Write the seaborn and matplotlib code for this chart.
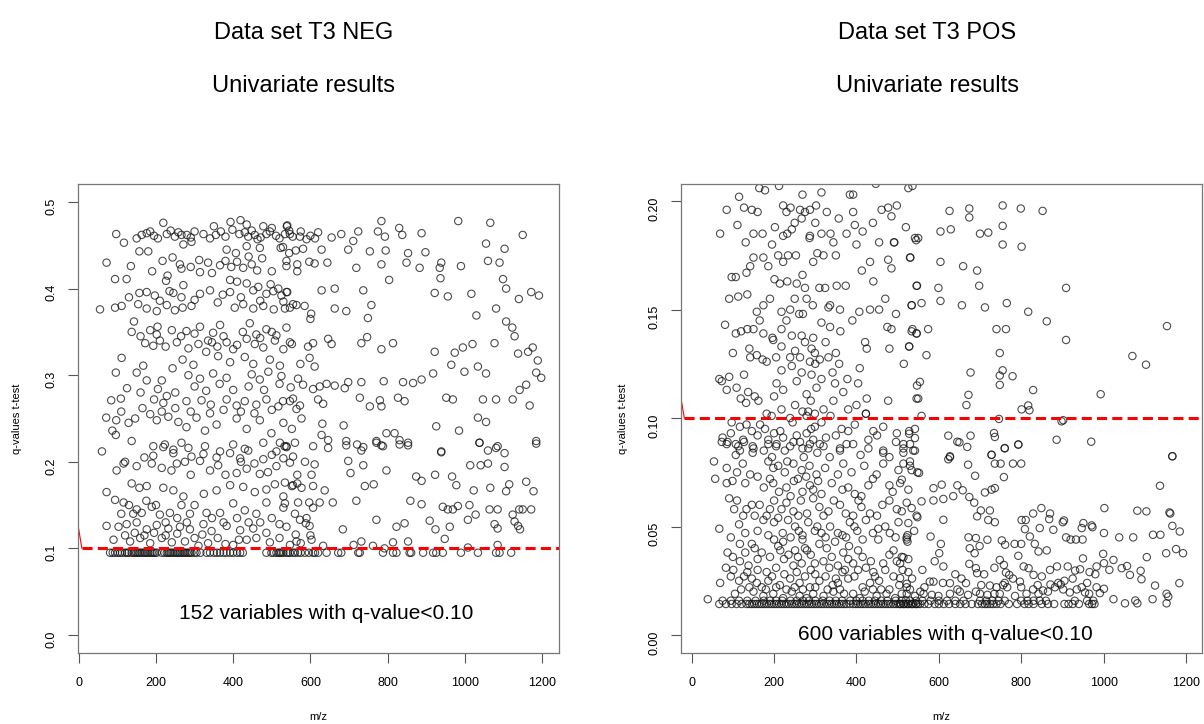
#!/usr/bin/env python3
'''two univariate q-value scatter panels (T3 NEG / T3 POS)'''

import pandas as pd
import matplotlib
matplotlib.use('Agg')
import matplotlib.pyplot as plt
import seaborn as sns

# ---------------- data ----------------
q_cut = 0.10

# NEG panel, q >= 0.3
neg_upper = [
    (219,.476),(350,.472),(393,.477),(419,.479),(435,.474),(478,.472),(500,.470),(539,.472),
    (97,.463),(163,.462),(176,.464),(195,.461),(228,.463),(249,.460),(266,.462),(290,.459),(323,.463),
    (355,.462),(416,.463),(439,.460),(456,.462),(471,.459),(486,.463),(511,.461),(534,.463),(554,.460),
    (117,.453),(271,.451),(292,.454),(435,.449),(469,.447),(157,.443),(180,.443),(383,.445),(407,.441),
    (523,.447),(545,.441),(562,.444),
    (72,.430),(217,.432),(243,.436),(262,.428),(312,.433),(335,.430),(366,.427),(410,.431),(426,.424),
    (448,.428),(462,.421),(538,.426),(566,.420),(135,.426),(266,.423),(314,.419),
    (94,.411),(124,.411),(226,.409),(271,.404),(392,.410),(410,.408),(435,.406),(465,.402),(497,.405),(517,.400),
    (157,.395),(176,.396),(197,.392),(235,.397),(266,.390),(314,.394),(340,.398),(373,.393),(392,.396),
    (452,.398),(486,.394),(504,.397),(525,.392),(540,.396),
    (55,.376),(94,.378),(111,.380),(154,.382),(176,.377),(202,.374),(228,.381),(249,.375),(269,.378),
    (292,.380),(404,.378),(426,.382),(452,.377),(478,.380),(505,.376),(547,.378),(564,.381),
    (143,.362),(137,.350),(202,.347),(204,.356),(241,.352),(279,.351),(314,.356),(348,.349),(366,.358),
    (443,.360),(460,.347),(486,.353),(512,.346),(538,.355),
    (172,.337),(193,.334),(210,.340),(254,.338),(284,.331),(310,.336),(335,.340),(359,.333),(383,.338),
    (400,.330),(435,.342),(456,.336),(478,.332),(508,.340),(552,.336),
    (111,.320),(269,.318),(297,.312),(361,.322),(392,.315),(430,.321),(452,.313),(495,.318),(521,.311),
    (96,.303),(150,.303),(167,.311),(176,.294),(215,.294),(243,.308),(284,.300),(314,.296),(348,.302),
    (383,.297),(448,.301),(469,.295),(491,.304),(525,.299),(568,.296),
    (784,.478),(830,.470),(983,.478),(1066,.476),(540,.473),
    (547,.463),(573,.460),(620,.465),(680,.463),(724,.466),(775,.466),(793,.460),(838,.462),(888,.464),
    (1150,.462),(590,.457),(655,.459),(711,.455),
    (529,.448),(581,.446),(629,.445),(698,.445),(754,.443),(795,.444),(853,.441),(898,.442),(1055,.452),(1103,.446),
    (538,.432),(566,.428),(597,.431),(611,.429),(644,.430),(719,.424),(784,.428),(849,.430),(883,.424),
    (939,.430),(990,.426),(1060,.432),(1090,.430),(935,.424),
    (804,.410),(937,.412),(1099,.411),
    (538,.396),(629,.398),(663,.400),(737,.398),(922,.395),(956,.391),(1017,.394),(1107,.400),(1172,.396),
    (1192,.392),(1140,.388),
    (534,.377),(555,.382),(585,.380),(602,.371),(663,.377),(693,.374),(758,.381),(749,.366),(1030,.369),
    (1081,.377),(1107,.362),(1123,.355),(600,.365),
    (547,.338),(594,.333),(607,.337),(646,.342),(655,.336),(732,.337),(747,.344),(784,.330),(814,.337),
    (922,.327),(974,.326),(995,.332),(1020,.336),(1077,.337),(1138,.325),(1164,.327),(1176,.332),
    (1189,.317),(1129,.345),
    (574,.313),(598,.320),(611,.310),(918,.302),(965,.312),(999,.304),(1034,.310),(1055,.302),(1185,.303),(1198,.297),
    (150,.458),(185,.466),(205,.458),(238,.467),(258,.465),(280,.462),(300,.466),(340,.458),(368,.466),
    (380,.460),(398,.468),(430,.465),(448,.467),(463,.457),(495,.466),(520,.458),(545,.467),(575,.466),
    (600,.461),(612,.458),
    (190,.420),(230,.415),(290,.425),(345,.418),(380,.432),(395,.425),(440,.437),(475,.435),(500,.420),
    (130,.390),(210,.386),(245,.395),(300,.387),(360,.384),(420,.390),(470,.386),(530,.385),
    (160,.345),(185,.352),(225,.333),(265,.345),(300,.348),(330,.327),(345,.338),(375,.345),(410,.335),
    (425,.350),(470,.343),(500,.350),(530,.330),
]

# NEG panel, 0.1 <= q < 0.3
neg_lower = [
    (84,.271),(109,.273),(195,.272),(219,.268),(228,.276),(279,.270),(318,.271),(342,.266),(383,.272),
    (409,.265),(430,.270),(460,.266),(486,.272),(517,.264),(547,.270),(564,.261),
    (71,.251),(97,.248),(87,.236),(96,.231),(129,.245),(146,.250),(202,.248),(232,.252),(258,.246),
    (279,.240),(305,.251),(327,.236),(357,.243),(409,.250),(435,.238),(469,.248),(499,.233),(530,.245),(552,.238),
    (60,.212),(137,.224),(193,.218),(223,.220),(245,.214),(266,.222),(284,.216),(327,.218),(366,.212),
    (400,.220),(430,.215),(478,.222),(512,.212),(538,.217),
    (549,.286),(581,.289),(607,.284),(624,.287),(642,.290),(663,.288),(689,.285),(698,.292),(732,.292),
    (790,.293),(840,.292),(866,.291),(888,.295),(1142,.283),(1159,.289),
    (529,.270),(555,.273),(573,.265),(620,.272),(633,.267),(728,.274),(754,.264),(780,.271),(784,.264),
    (827,.274),(844,.270),(952,.274),(969,.272),(1047,.272),(1081,.272),(1124,.272),(1168,.265),
    (577,.250),(631,.244),(686,.242),(926,.241),(985,.236),(1034,.251),(1055,.246),(797,.233),(818,.233),
    (560,.222),(629,.231),(646,.225),(693,.224),(721,.220),(737,.217),(771,.224),(784,.219),(831,.225),
    (853,.222),(939,.211),(1038,.222),(1081,.216),(1103,.210),(1185,.224),(1060,.213),
    (193,.207),(219,.217),(245,.210),(292,.206),(323,.209),(357,.205),(392,.210),(418,.204),(439,.213),
    (478,.203),(500,.208),(530,.204),(555,.206),(533,.218),
    (98,.190),(116,.198),(189,.198),(215,.193),(254,.198),(275,.200),(314,.201),(361,.196),(409,.187),
    (435,.192),(469,.186),(512,.195),(547,.199),(566,.185),
    (72,.165),(137,.175),(157,.170),(176,.172),(219,.170),(245,.167),(271,.160),(324,.163),(357,.167),
    (392,.173),(426,.171),(456,.165),(486,.168),(508,.174),(530,.160),(552,.172),
    (94,.156),(116,.153),(141,.140),(163,.141),(189,.148),(210,.139),(236,.141),(266,.150),(288,.140),
    (331,.141),(366,.141),(400,.152),(430,.144),(460,.140),(486,.153),(530,.147),
    (72,.126),(103,.125),(124,.128),(150,.130),(176,.122),(202,.127),(232,.123),(262,.125),(288,.122),
    (323,.128),(344,.120),(383,.126),(418,.121),(452,.123),(486,.118),(538,.125),(562,.116),
    (133,.108),(159,.112),(185,.106),(215,.112),(241,.107),(275,.108),(310,.103),(335,.106),(400,.104),
    (435,.110),(495,.107),(547,.104),
    (521,.222),(538,.218),(607,.218),(646,.216),(693,.219),(732,.213),(771,.222),(788,.218),(831,.220),
    (853,.219),(939,.212),(1038,.222),(1085,.218),(1185,.221),
    (586,.200),(611,.197),(698,.201),(737,.196),(797,.190),(704,.187),(1014,.196),(1041,.196),(1060,.198),(1103,.194),
    (534,.176),(555,.173),(566,.175),(577,.170),(607,.172),(637,.167),(741,.172),(764,.174),(874,.183),
    (888,.178),(923,.185),(967,.183),(978,.173),(1023,.167),(1066,.170),(1107,.166),(1115,.174),(1159,.177),
    (1178,.166),(603,.185),
    (534,.152),(568,.153),(597,.153),(607,.147),(624,.153),(658,.153),(719,.155),(859,.155),(888,.151),
    (943,.148),(956,.145),(969,.145),(982,.149),(1012,.150),(1028,.139),(1064,.145),(1085,.145),(1124,.139),
    (1141,.145),(1150,.145),(1172,.145),
    (573,.133),(588,.129),(598,.126),(684,.122),(771,.133),(823,.125),(844,.129),(909,.132),(924,.122),
    (961,.125),(1008,.133),(1077,.128),(1085,.123),(1129,.131),(1138,.126),(1143,.122),
    (564,.108),(603,.110),(633,.103),(712,.104),(732,.108),(762,.103),(792,.100),(814,.107),(853,.108),
    (948,.111),(1008,.101),(1085,.104),
    (125,.285),(160,.280),(205,.284),(250,.280),(300,.287),(330,.282),(365,.290),(400,.283),(440,.287),
    (480,.283),(520,.290),
    (110,.258),(165,.262),(185,.255),(215,.258),(250,.262),(290,.258),(340,.256),(375,.260),(420,.258),
    (455,.256),(500,.260),
    (120,.200),(150,.195),(170,.205),(240,.190),(290,.185),(340,.190),(380,.185),(420,.200),(455,.198),(490,.188),
    (110,.140),(130,.150),(150,.145),(175,.155),(200,.150),(225,.130),(255,.135),(280,.130),(300,.150),
    (345,.135),(375,.130),(410,.135),(440,.130),(470,.130),(500,.135),(520,.128),(560,.140),(590,.135),
    (90,.110),(120,.115),(145,.118),(170,.115),(195,.118),(225,.115),(255,.117),(300,.112),(320,.116),
    (360,.112),(380,.105),(415,.110),(460,.112),(520,.112),(575,.106),(600,.115),
]

# NEG panel, the 152 variables sitting at the lowest q-value
neg_floor_q = 0.095
neg_floor_mz = [
    81, 88, 94, 101, 107, 112, 120, 125, 129, 137, 142, 146, 150, 154, 158, 163, 168, 172, 176, 180,
    185, 189, 193, 197, 202, 215, 222, 228, 232, 236, 240, 245, 250, 254, 258, 262, 266, 271, 275, 279,
    284, 288, 292, 300, 305, 315, 331, 340, 350, 358, 366, 375, 383, 392, 400, 410, 418, 425,
    486, 499, 505, 512, 518, 521, 525, 530, 538, 542, 547, 555, 560, 568, 575, 586, 596, 607, 612, 620,
    642, 672, 680, 724, 728, 788, 814, 823, 857, 861, 892, 918, 926, 943, 990, 1034, 1081, 1090, 1120,
]

# POS panel, q >= 0.1
pos_upper = [
    (212,.207),(164,.206),(178,.205),(269,.203),(315,.204),(384,.203),(392,.203),(447,.208),(536,.207),(115,.202),
    (85,.196),(127,.197),(146,.196),(222,.198),(230,.195),(240,.197),(263,.196),(275,.195),(287,.196),
    (302,.198),(328,.195),(392,.195),(461,.196),(477,.197),(485,.193),(498,.198),
    (111,.189),(267,.192),(357,.192),(396,.189),(202,.188),(222,.184),(243,.187),(69,.185),(172,.185),
    (232,.185),(287,.184),(315,.185),(337,.185),(376,.185),(415,.186),(455,.181),(491,.181),(542,.183),
    (131,.181),(286,.183),(344,.181),(492,.181),
    (150,.174),(174,.174),(186,.170),(210,.175),(222,.172),(234,.175),(253,.175),(295,.172),(305,.176),
    (142,.170),(133,.167),(413,.168),(433,.172),(477,.173),(485,.169),(530,.174),
    (97,.165),(107,.165),(201,.164),(214,.162),(232,.163),(255,.162),(269,.166),(275,.160),(324,.160),
    (352,.161),(374,.161),(441,.163),(547,.161),
    (91,.155),(113,.156),(135,.157),(158,.149),(174,.152),(218,.149),(239,.150),(261,.148),(279,.155),
    (294,.152),(332,.151),(336,.152),(360,.150),(407,.149),(433,.150),(455,.150),(496,.148),(534,.152),
    (81,.143),(107,.139),(135,.141),(150,.141),(174,.139),(196,.137),(218,.141),(243,.138),(267,.138),
    (295,.137),(315,.144),(336,.142),(361,.140),(475,.142),(485,.141),(534,.140),(546,.139),
    (198,.136),(218,.133),(251,.131),(275,.135),(291,.132),(299,.130),(421,.135),(425,.132),(528,.133),
    (142,.128),(158,.129),(172,.127),(182,.126),(239,.128),(263,.128),(287,.126),(311,.127),(332,.128),
    (358,.125),(480,.132),
    (218,.122),(243,.124),(267,.121),(291,.120),(315,.118),(342,.121),(378,.118),(408,.123),(91,.119),
    (73,.117),(127,.120),
    (67,.118),(85,.113),(109,.114),(137,.112),(153,.110),(206,.116),(222,.113),(255,.117),(279,.111),
    (303,.114),(348,.116),(368,.112),(404,.116),(425,.109),(547,.115),
    (119,.109),(132,.107),(162,.108),(200,.110),(218,.104),(251,.106),(269,.103),(289,.108),(320,.104),
    (344,.108),(380,.104),(400,.106),(423,.102),(477,.108),(546,.109),
    (182,.102),(194,.101),(239,.100),(279,.101),(283,.103),(299,.102),(337,.101),(423,.102),
    (526,.206),(626,.1955),(674,.1966),(674,.1925),(755,.198),(799,.1966),(852,.1955),(604,.186),(629,.187),
    (700,.185),(720,.1855),(755,.1886),(545,.182),(550,.183),(755,.180),(801,.179),(531,.174),(604,.172),
    (659,.170),(693,.168),(546,.161),(599,.160),(698,.161),(909,.160),(534,.152),(558,.153),(604,.154),
    (656,.152),(712,.151),(765,.153),(817,.149),(862,.1446),(1154,.1424),(536,.141),(546,.139),(574,.141),
    (740,.141),(763,.141),(909,.136),(528,.133),(570,.129),(748,.130),(1070,.1286),(1103,.1246),(677,.121),
    (755,.122),(748,.1196),(779,.1193),(554,.1167),(748,.1153),(550,.109),(672,.1107),(829,.1129),(993,.111),
    (667,.106),(801,.104),(817,.1058),(820,.1036),(558,.101),
    (100,.130),(120,.140),(140,.132),(165,.145),(190,.155),(205,.128),(230,.145),(250,.155),(270,.148),
    (300,.125),(310,.160),(325,.135),(350,.130),(390,.145),(470,.155),(515,.125),
    (150,.185),(160,.195),(195,.180),(250,.190),(300,.190),(320,.175),(350,.175),(400,.180),(440,.190),(520,.188),
]

# POS panel, q < 0.1
pos_lower = [
    (97,.098),(117,.096),(133,.097),(146,.094),(166,.097),(178,.095),(200,.093),(245,.098),(279,.093),
    (299,.096),(315,.098),(364,.095),(380,.094),(396,.097),(441,.094),(465,.096),(498,.093),(528,.094),(542,.095),
    (75,.091),(87,.089),(107,.088),(117,.085),(148,.087),(186,.090),(206,.088),(222,.091),(239,.087),
    (263,.089),(283,.086),(295,.090),(311,.088),(326,.091),(360,.086),(376,.088),(429,.090),(465,.085),
    (496,.089),(514,.086),(530,.088),(542,.085),(107,.083),(148,.084),
    (746,.0996),(898,.0985),(902,.099),(528,.0928),(542,.0908),(623,.0919),(677,.0919),(734,.0931),
    (736,.0913),(645,.0891),(650,.0888),(669,.0867),(760,.0862),(793,.0878),(886,.090),(970,.0891),
    (1167,.0824),(627,.0824),(728,.0831),
    (73,.089),(85,.088),(113,.087),(127,.089),(150,.086),(186,.088),(205,.087),(226,.085),(247,.089),
    (269,.086),(287,.088),(305,.084),(320,.087),(360,.085),(392,.088),(429,.086),(465,.084),(514,.088),(538,.085),
    (54,.080),(85,.077),(124,.079),(142,.074),(186,.080),(198,.077),(210,.078),(226,.075),(247,.079),
    (267,.076),(286,.078),(303,.074),(324,.077),(368,.079),(388,.075),(419,.078),(449,.074),(465,.079),
    (502,.076),(530,.078),(548,.075),
    (57,.072),(85,.070),(99,.071),(198,.070),(212,.066),(230,.068),(248,.071),(269,.066),(287,.069),
    (307,.071),(366,.067),(396,.065),(412,.064),(429,.069),(488,.066),(506,.070),(526,.067),
    (91,.063),(103,.058),(133,.058),(146,.060),(153,.055),(182,.055),(200,.062),(218,.058),(247,.057),
    (259,.055),(295,.063),(310,.059),(332,.057),(360,.060),(374,.056),(392,.055),(412,.059),(433,.056),
    (463,.060),(498,.058),(522,.061),(546,.055),
    (67,.049),(115,.051),(174,.053),(186,.046),(200,.052),(221,.047),(234,.053),(251,.050),(269,.046),
    (283,.052),(299,.048),(315,.047),(336,.050),(366,.046),(384,.052),(402,.048),(423,.053),(453,.049),
    (481,.047),(502,.052),(524,.046),
    (87,.038),(117,.042),(146,.042),(153,.040),(170,.038),(200,.044),(222,.043),(251,.039),(269,.044),
    (289,.037),(310,.042),(328,.040),(348,.043),(368,.038),(382,.041),(404,.039),(453,.044),(480,.037),
    (490,.039),(524,.043),
    (83,.031),(101,.030),(117,.034),(138,.032),(182,.029),(205,.031),(224,.035),(247,.032),(267,.033),
    (289,.030),(299,.033),(334,.031),(366,.029),(392,.033),(404,.030),(423,.031),(441,.029),(498,.034),
    (512,.030),(526,.029),
    (69,.024),(127,.027),(146,.026),(158,.024),(170,.022),(186,.025),(214,.023),(239,.026),(262,.024),
    (287,.022),(310,.025),(342,.023),(360,.021),(380,.026),(415,.022),(433,.024),(455,.025),(480,.021),
    (504,.023),(522,.022),
    (105,.019),(150,.020),(174,.018),(198,.019),(222,.017),(243,.020),(262,.018),(279,.017),(295,.019),
    (320,.018),(344,.020),(392,.019),(408,.017),(449,.018),(473,.019),(494,.017),(520,.016),(542,.018),(39,.0165),
    (514,.084),(514,.079),(530,.080),(534,.076),(552,.0747),(510,.0716),(623,.081),(627,.082),(671,.0785),
    (728,.083),(736,.079),(750,.079),(780,.079),(800,.079),(793,.0878),(760,.086),(688,.0734),(758,.0728),(1167,.0824),
    (587,.0677),(607,.0693),(558,.0616),(587,.062),(611,.0627),(635,.064),(645,.069),(658,.0667),(674,.0636),
    (686,.061),(712,.0657),(728,.067),(736,.0677),(1137,.0688),
    (534,.0585),(548,.0543),(526,.0516),(611,.0531),(702,.0574),(724,.0574),(693,.0547),(720,.053),(736,.052),
    (801,.053),(811,.053),(829,.056),(849,.0585),(870,.056),(868,.0534),(904,.0528),(951,.0516),(947,.0493),
    (973,.0497),(1002,.0585),(1082,.0573),(1104,.057),(1160,.0565),(1162,.056),
    (580,.0454),(522,.045),(522,.044),(605,.042),(601,.0377),(672,.045),(690,.0447),(718,.0439),(675,.040),
    (687,.0377),(699,.041),(753,.0436),(761,.0416),(784,.042),(800,.042),(833,.042),(842,.0385),(862,.039),
    (809,.0488),(821,.0454),(845,.0493),(878,.0485),(909,.045),(920,.044),(933,.044),(949,.044),(901,.052),
    (971,.0505),(1001,.047),(1038,.045),(1072,.045),(1120,.0462),(1138,.0462),(1152,.0377),(1176,.0396),
    (1193,.0377),(1185,.0477),(1167,.0503),
    (514,.0358),(526,.035),(506,.033),(611,.0316),(674,.0328),(690,.0308),(693,.0285),(748,.0346),(758,.0323),
    (763,.0288),(771,.0277),(793,.0365),(806,.0316),(818,.0308),(830,.0277),(887,.0316),(913,.0316),(931,.0297),
    (943,.0303),(966,.029),(950,.0353),(983,.0316),(1001,.0331),(1014,.030),(1024,.0346),(1044,.0308),
    (1057,.0318),(999,.0374),(1064,.0277),(1090,.0296),(1105,.0359),(1092,.0257),(1184,.0239),(1125,.0228),
    (506,.0262),(522,.0236),(578,.0246),(587,.0246),(627,.0239),(666,.0239),(703,.023),(724,.0228),(740,.022),
    (756,.023),(766,.022),(797,.0246),(829,.021),(853,.0205),(871,.0233),(882,.022),(896,.0233),(902,.021),
    (918,.0196),(947,.022),(955,.0196),(983,.022),(991,.0193),(1001,.0213),(1153,.019),(1157,.0177),
    (1024,.0165),(1052,.0146),(1077,.0159),(1082,.0146),(1119,.0165),(1153,.0146),
    (522,.019),(563,.019),(583,.0185),(599,.018),(627,.019),(651,.020),(671,.0185),(700,.019),(718,.0185),
    (748,.019),(785,.018),(813,.019),(842,.019),
    (95,.093),(125,.090),(160,.092),(175,.085),(195,.082),(215,.094),(232,.080),(255,.092),(272,.082),
    (290,.095),(335,.082),(350,.092),(410,.083),(450,.092),(480,.082),
    (110,.075),(130,.070),(160,.073),(175,.068),(190,.072),(240,.064),(258,.072),(278,.073),(295,.067),
    (315,.065),(340,.070),(355,.074),(380,.068),(440,.072),(480,.069),
    (110,.062),(125,.055),(165,.060),(190,.058),(210,.054),(230,.061),(265,.062),(280,.056),(320,.055),
    (345,.062),(405,.062),(450,.055),(480,.062),(510,.057),
    (95,.045),(130,.047),(160,.048),(210,.041),(240,.045),(260,.048),(275,.040),(305,.050),(325,.045),
    (355,.047),(375,.045),(395,.050),(415,.044),(440,.047),(470,.050),(495,.045),(540,.048),
    (100,.036),(130,.038),(160,.035),(190,.036),(215,.039),(235,.037),(258,.036),(280,.039),(320,.034),
    (340,.036),(355,.032),(380,.035),(415,.036),(435,.034),(465,.033),(510,.036),
    (95,.027),(115,.025),(135,.029),(160,.030),(195,.027),(225,.028),(255,.029),(275,.027),(300,.028),
    (325,.027),(350,.026),(372,.030),(395,.027),(445,.027),(470,.030),(490,.027),(535,.026),
    (120,.021),(140,.022),(180,.021),(205,.022),(230,.021),(250,.022),(270,.021),(300,.022),(330,.021),
    (355,.024),(370,.019),(420,.020),(440,.021),(460,.021),(510,.019),(530,.021),(555,.020),
    (560,.030),(590,.034),(640,.028),(655,.026),(710,.028),(735,.031),(780,.026),(850,.027),(870,.030),
    (905,.025),(925,.026),(960,.024),(980,.028),
    (565,.022),(610,.024),(645,.021),(690,.020),(735,.019),(760,.024),(800,.022),(840,.023),(865,.020),
    (890,.024),(935,.021),(965,.019),
]

# POS panel, the variables sitting at the lowest q-values (two tight rows)
pos_floor_q = 0.0143
pos_floor_mz = [
    67, 83, 97, 109, 121, 133, 140, 146, 152, 158, 164, 170, 176, 182, 188, 194, 200, 206, 212, 218,
    224, 230, 236, 243, 249, 255, 261, 267, 273, 279, 285, 291, 297, 303, 309, 315, 321, 328, 334, 340,
    346, 352, 358, 364, 370, 376, 384, 392, 398, 404, 410, 416, 422, 429, 435, 441, 447, 453, 459, 465,
    471, 477, 483, 490, 496, 502, 506, 508, 514, 515, 520, 525, 526, 532, 535, 538, 544, 545, 550, 555,
    565, 575, 590, 600, 612, 625, 640, 652, 665, 680, 695, 705, 712, 718, 725, 732, 740, 750, 770, 790,
    808, 818, 830, 850, 865, 880, 905, 915, 925, 940, 965, 972, 978,
]
pos_floor2_q = 0.0158
pos_floor2_mz = [
    75, 95, 115, 135, 155, 175, 190, 205, 220, 240, 255, 270, 285, 300, 318, 335, 350, 365, 385, 400,
    415, 430, 445, 460, 475, 495, 510, 530, 545, 560, 580, 600, 620, 640, 660, 700, 715, 730, 745, 760,
    800, 815, 830, 845, 860, 930, 960, 975,
]

# short red lead-in line at the y axis
neg_lead_mz, neg_lead_q = [-2, 8], [0.127, 0.10]
pos_lead_mz, pos_lead_q = [-25, -18], [0.108, 0.10]

panels = [
    dict(title='Data set T3 NEG', upper=neg_upper, lower=neg_lower,
         floors=[(neg_floor_mz, neg_floor_q)], lead=(neg_lead_mz, neg_lead_q),
         xlim=(-2, 1244), ylim=(-0.0208, 0.5208),
         yticks=[0.0, 0.1, 0.2, 0.3, 0.4, 0.5], ylabels=['0.0', '0.1', '0.2', '0.3', '0.4', '0.5'],
         note='152 variables with q-value<0.10', note_xy=(640, 0.025),
         rect=[78/1204, 71/724, 481/1204, 469/724], ylab_x=-0.116, title_x=304/1204),
    dict(title='Data set T3 POS', upper=pos_upper, lower=pos_lower,
         floors=[(pos_floor_mz, pos_floor_q), (pos_floor2_mz, pos_floor2_q)], lead=(pos_lead_mz, pos_lead_q),
         xlim=(-26, 1239), ylim=(-0.0083, 0.2079),
         yticks=[0.0, 0.05, 0.10, 0.15, 0.20], ylabels=['0.00', '0.05', '0.10', '0.15', '0.20'],
         note='600 variables with q-value<0.10', note_xy=(615, 0.0),
         rect=[681/1204, 71/724, 521/1204, 469/724], ylab_x=-0.102, title_x=927/1204),
]

# ---------------- plotting ----------------
sns.set_theme(style='white')
plt.rcParams['font.family'] = ['Liberation Sans', 'DejaVu Sans']
plt.rcParams['text.color'] = 'black'
plt.rcParams['axes.labelcolor'] = 'black'

fig = plt.figure(figsize=(12.04, 7.24), dpi=100)

for p in panels:
    ax = fig.add_axes(p['rect'])
    parts = [pd.DataFrame(p['upper'] + p['lower'], columns=['mz', 'q'])]
    for fmz, fq in p['floors']:
        parts.append(pd.DataFrame({'mz': fmz, 'q': fq}))
    df = pd.concat(parts, ignore_index=True)

    sns.scatterplot(data=df, x='mz', y='q', ax=ax, marker='o', s=28,
                    facecolor='none', edgecolor='#111111', linewidth=0.8, alpha=0.75)
    ax.collections[-1].set_facecolor('none')

    lx, ly = p['lead']
    ax.plot(lx, ly, color='red', lw=0.8)
    ax.hlines(q_cut, lx[-1], p['xlim'][1], colors='red', lw=2.2, linestyles=(0, (3.3, 1.7)))

    ax.text(*p['note_xy'], p['note'], ha='center', va='center', fontsize=15)

    ax.set_xlim(p['xlim'])
    ax.set_ylim(p['ylim'])
    ax.set_xticks([0, 200, 400, 600, 800, 1000, 1200])
    ax.set_yticks(p['yticks'])
    ax.set_yticklabels(p['ylabels'])
    ax.tick_params(axis='both', direction='out', length=7, width=0.8, color='#555555',
                   labelsize=9, labelcolor='black', bottom=True, left=True)
    ax.tick_params(axis='x', pad=10)
    ax.tick_params(axis='y', labelrotation=90, pad=8)
    for sp in ax.spines.values():
        sp.set_visible(True)
        sp.set_color('#777777')
        sp.set_linewidth(0.9)

    ax.set_xlabel('m/z', fontsize=8)
    ax.set_ylabel('q-values t-test', fontsize=8)
    ax.xaxis.set_label_coords(0.5, -0.126)
    ax.yaxis.set_label_coords(p['ylab_x'], 0.5)

    fig.text(p['title_x'], 1 - 33/724, p['title'], ha='center', va='center', fontsize=17)
    fig.text(p['title_x'], 1 - 86/724, 'Univariate results', ha='center', va='center', fontsize=17)

fig.savefig('out.png', dpi=100)
